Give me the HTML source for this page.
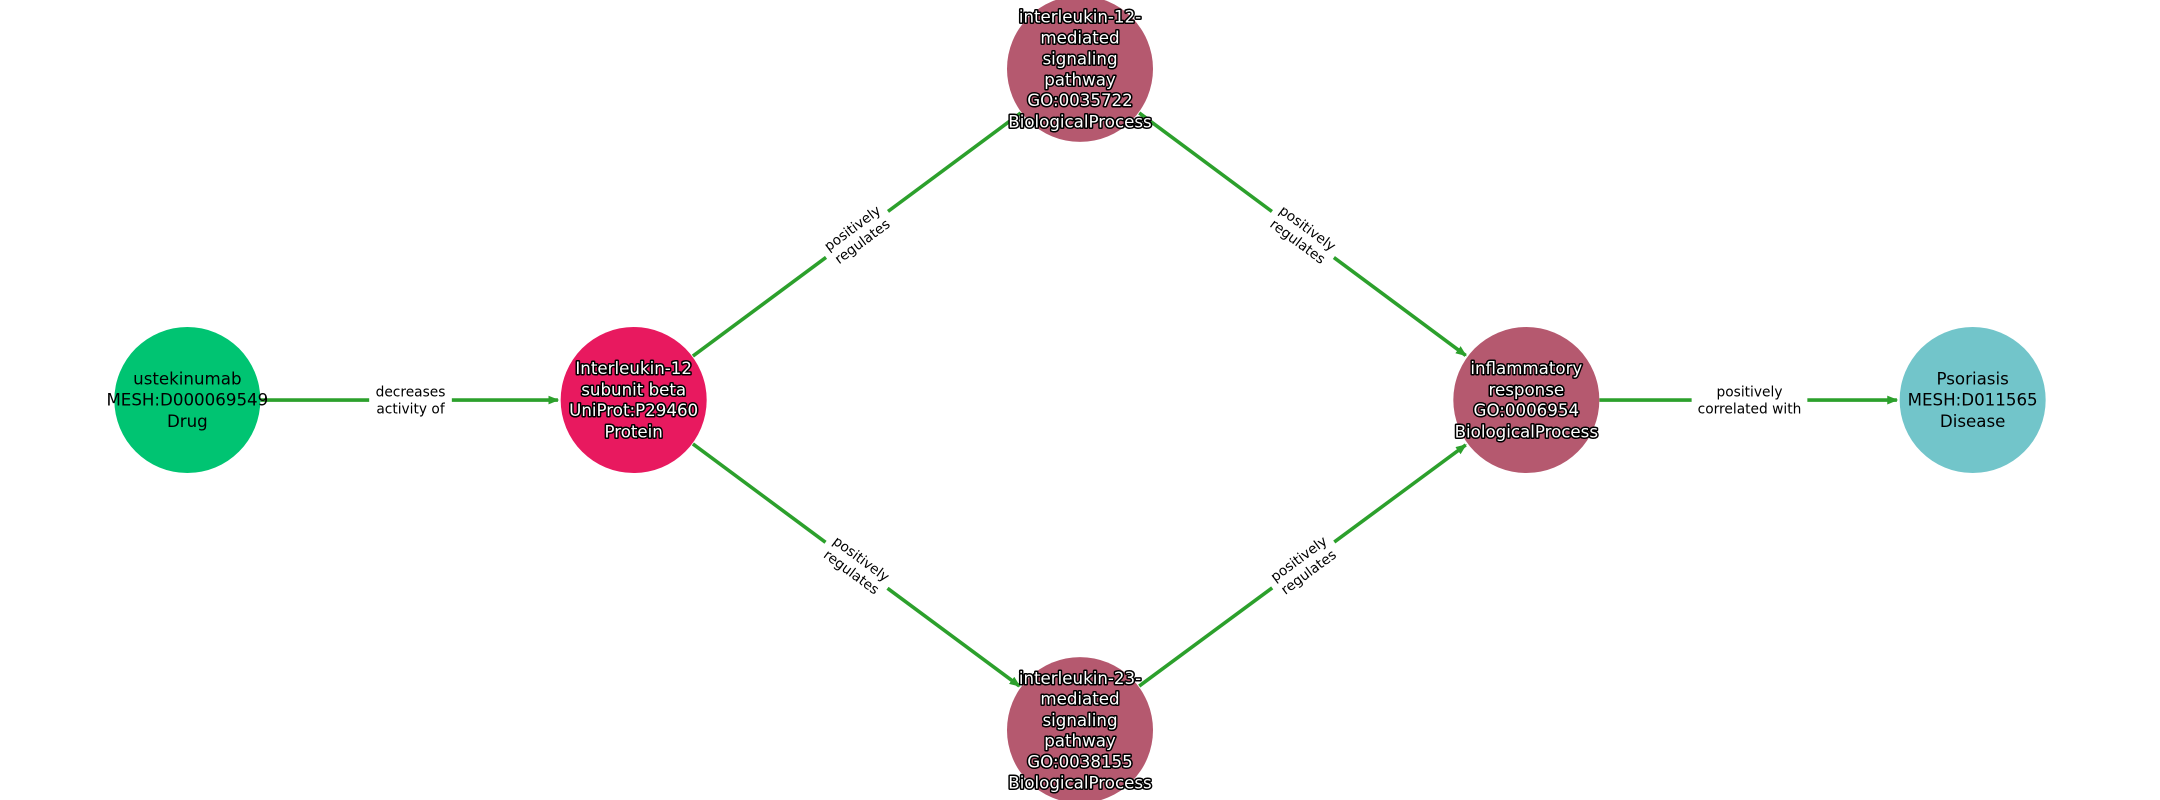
<!DOCTYPE html>
<html><head><meta charset="utf-8"><style>
html,body{margin:0;padding:0;background:#fff;width:2160px;height:800px;overflow:hidden}
svg{display:block}
.n{font-family:"DejaVu Sans","Liberation Sans",sans-serif;font-size:12.1px;text-anchor:middle}
.w{fill:#fff;stroke:#000;stroke-width:2.2px;paint-order:stroke;stroke-linejoin:round}
.b{fill:#000}
.e{font-family:"DejaVu Sans","Liberation Sans",sans-serif;font-size:10px;text-anchor:middle;fill:#000}
.l{stroke:#2ca02c;stroke-width:2.6;fill:none}
</style></head><body>
<svg width="2160" height="800" viewBox="0 0 1568 580.74" xmlns="http://www.w3.org/2000/svg">
<defs><marker id="a" markerWidth="8" markerHeight="8" refX="7" refY="4" orient="auto" markerUnits="userSpaceOnUse"><path d="M0,0.8 L8,4 L0,7.2 z" fill="#2ca02c"/></marker></defs>
<line class="l" x1="189" y1="290.4" x2="405" y2="290.4" marker-end="url(#a)"/>
<line class="l" x1="503" y1="258.5" x2="741" y2="82" />
<line class="l" x1="503" y1="322.3" x2="740" y2="498" marker-end="url(#a)"/>
<line class="l" x1="827" y1="82" x2="1064" y2="258" marker-end="url(#a)"/>
<line class="l" x1="827" y1="498" x2="1064" y2="323" marker-end="url(#a)"/>
<line class="l" x1="1161" y1="290.4" x2="1377" y2="290.4" marker-end="url(#a)"/>
<g><rect x="268" y="276" width="60" height="28" fill="#fff"/><text class="e" x="298" y="288">decreases</text><text class="e" x="298" y="300">activity of</text></g>
<g><rect x="1228" y="276" width="84" height="28" fill="#fff"/><text class="e" x="1270" y="288">positively</text><text class="e" x="1270" y="300">correlated with</text></g>
<g transform="translate(622,170) rotate(-36.5)"><rect x="-28" y="-14" width="56" height="28" fill="#fff"/><text class="e" y="-2">positively</text><text class="e" y="10">regulates</text></g>
<g transform="translate(946,170) rotate(36.5)"><rect x="-28" y="-14" width="56" height="28" fill="#fff"/><text class="e" y="-2">positively</text><text class="e" y="10">regulates</text></g>
<g transform="translate(622,410) rotate(36.5)"><rect x="-28" y="-14" width="56" height="28" fill="#fff"/><text class="e" y="-2">positively</text><text class="e" y="10">regulates</text></g>
<g transform="translate(946,410) rotate(-36.5)"><rect x="-28" y="-14" width="56" height="28" fill="#fff"/><text class="e" y="-2">positively</text><text class="e" y="10">regulates</text></g>
<circle cx="136" cy="290.4" r="53" fill="#00c472"/>
<circle cx="460" cy="290.4" r="53" fill="#e8195f"/>
<circle cx="784" cy="50" r="53" fill="#b5596f"/>
<circle cx="784" cy="530" r="53" fill="#b5596f"/>
<circle cx="1108" cy="290.4" r="53" fill="#b5596f"/>
<circle cx="1432" cy="290.4" r="53" fill="#72c5ca"/>
<text class="n b" x="136" y="279">ustekinumab</text>
<text class="n b" x="136" y="294.5">MESH:D000069549</text>
<text class="n b" x="136" y="310">Drug</text>
<text class="n b" x="1432" y="279">Psoriasis</text>
<text class="n b" x="1432" y="294.5">MESH:D011565</text>
<text class="n b" x="1432" y="310">Disease</text>
<g class="n w">
<text x="460" y="271.5">Interleukin-12</text>
<text x="460" y="287">subunit beta</text>
<text x="460" y="302">UniProt:P29460</text>
<text x="460" y="317.5">Protein</text>
<text x="1108" y="271.5">inflammatory</text>
<text x="1108" y="287">response</text>
<text x="1108" y="302">GO:0006954</text>
<text x="1108" y="317.5">BiologicalProcess</text>
<text x="784" y="16.5">interleukin-12-</text>
<text x="784" y="31.5">mediated</text>
<text x="784" y="47">signaling</text>
<text x="784" y="62">pathway</text>
<text x="784" y="77">GO:0035722</text>
<text x="784" y="92.5">BiologicalProcess</text>
<text x="784" y="496.5">interleukin-23-</text>
<text x="784" y="511.5">mediated</text>
<text x="784" y="527">signaling</text>
<text x="784" y="542">pathway</text>
<text x="784" y="557">GO:0038155</text>
<text x="784" y="572.5">BiologicalProcess</text>
</g>
</svg>
</body></html>
